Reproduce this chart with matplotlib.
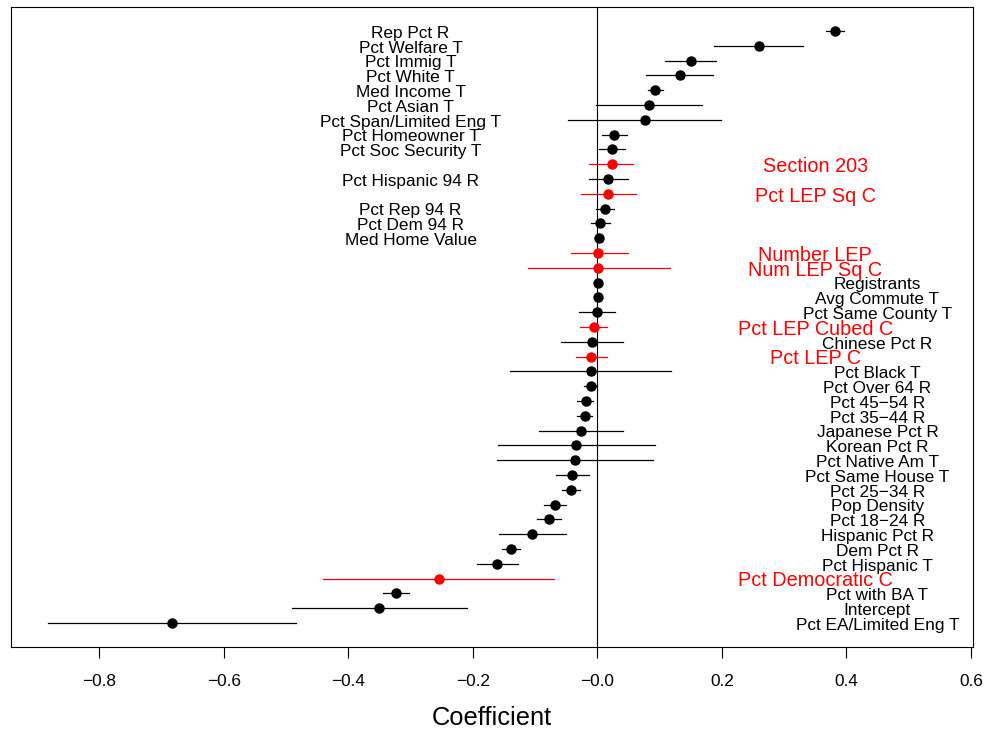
import numpy as np
import matplotlib
matplotlib.use("Agg")
import matplotlib.pyplot as plt
from matplotlib.transforms import offset_copy

plt.rcParams['font.family'] = ['Liberation Sans', 'DejaVu Sans']

# coefficient estimates, top row first
labels = [
    "Rep Pct R", "Pct Welfare T", "Pct Immig T", "Pct White T", "Med Income T",
    "Pct Asian T", "Pct Span/Limited Eng T", "Pct Homeowner T", "Pct Soc Security T",
    "Section 203", "Pct Hispanic 94 R", "Pct LEP Sq C", "Pct Rep 94 R", "Pct Dem 94 R",
    "Med Home Value", "Number LEP", "Num LEP Sq C", "Registrants", "Avg Commute T",
    "Pct Same County T", "Pct LEP Cubed C", "Chinese Pct R", "Pct LEP C", "Pct Black T",
    "Pct Over 64 R", "Pct 45\u221254 R", "Pct 35\u221244 R", "Japanese Pct R", "Korean Pct R",
    "Pct Native Am T", "Pct Same House T", "Pct 25\u221234 R", "Pop Density", "Pct 18\u221224 R",
    "Hispanic Pct R", "Dem Pct R", "Pct Hispanic T", "Pct Democratic C", "Pct with BA T",
    "Intercept", "Pct EA/Limited Eng T",
]
coef = [
    0.381, 0.260, 0.150, 0.133, 0.093,
    0.083, 0.076, 0.027, 0.023,
    0.023, 0.017, 0.017, 0.012, 0.005,
    0.002, 0.0013, 0.0013, 0.001, 0.0005,
    -0.001, -0.006, -0.008, -0.010, -0.011,
    -0.011, -0.019, -0.020, -0.026, -0.034,
    -0.036, -0.041, -0.042, -0.068, -0.078,
    -0.105, -0.138, -0.161, -0.255, -0.324,
    -0.350, -0.684,
]
lower = [
    0.368, 0.188, 0.108, 0.078, 0.081,
    -0.002, -0.047, 0.007, 0.003,
    -0.013, -0.014, -0.027, -0.002, -0.010,
    -0.003, -0.043, -0.112, -0.003, -0.003,
    -0.029, -0.028, -0.058, -0.034, -0.140,
    -0.022, -0.032, -0.032, -0.094, -0.160,
    -0.162, -0.067, -0.056, -0.086, -0.097,
    -0.158, -0.153, -0.193, -0.440, -0.344,
    -0.491, -0.883,
]
upper = [
    0.396, 0.331, 0.191, 0.186, 0.106,
    0.168, 0.198, 0.047, 0.044,
    0.058, 0.049, 0.062, 0.027, 0.020,
    0.007, 0.049, 0.117, 0.005, 0.004,
    0.028, 0.016, 0.041, 0.016, 0.118,
    0.000, -0.007, -0.008, 0.041, 0.093,
    0.089, -0.013, -0.028, -0.051, -0.058,
    -0.051, -0.124, -0.128, -0.070, -0.303,
    -0.209, -0.484,
]
# coverage (Section 203 / LEP) terms drawn in red
coverage = [
    "Section 203", "Pct LEP Sq C", "Number LEP", "Num LEP Sq C",
    "Pct LEP Cubed C", "Pct LEP C", "Pct Democratic C",
]
n_left = 15  # first rows have their label on the left side

fig = plt.figure(figsize=(9.84, 7.31), dpi=100)
ax = fig.add_axes([11 / 984, 1 - 646.7 / 731, (972.7 - 11) / 984, (646.7 - 7.3) / 731])

n = len(labels)
ypos = np.arange(n, 0, -1)

ax.axvline(0, color='black', lw=0.8, zorder=1)

# nudge labels down a little so they sit on the row like R's text()
txt_trans = offset_copy(ax.transData, fig=fig, x=0, y=-1.6, units='points')

for i, lab in enumerate(labels):
    col = 'red' if lab in coverage else 'black'
    y = ypos[i]
    ax.plot([lower[i], upper[i]], [y, y], color=col, lw=0.9, zorder=2)
    ax.plot(coef[i], y, 'o', color=col, ms=6.5, zorder=3)
    if col == 'red':
        ax.text(0.35, y, lab, color='red', fontsize=14.3, ha='center', va='center',
                transform=txt_trans)
    elif i < n_left:
        ax.text(-0.3, y, lab, color='black', fontsize=12.4, ha='center', va='center',
                transform=txt_trans)
    else:
        ax.text(0.45, y, lab, color='black', fontsize=12.4, ha='center', va='center',
                transform=txt_trans)

ax.set_xlim(-0.942, 0.603)
ax.set_ylim(-0.6, n + 1.6)
ax.set_yticks([])
ticks = np.arange(-0.8, 0.61, 0.2)
ax.set_xticks(ticks)
ax.set_xticklabels([f"{v:.1f}".replace("-", "\u2212") for v in ticks])
ax.tick_params(axis='x', length=8, width=0.8, pad=11.5, labelsize=12.4)
for s in ax.spines.values():
    s.set_linewidth(0.8)

ax.set_xlabel("Coefficient", fontsize=18.4, va='center')
ax.xaxis.set_label_coords(0.5, -(718 - 646.7) / (646.7 - 7.3))

fig.savefig("out.png", dpi=100)
